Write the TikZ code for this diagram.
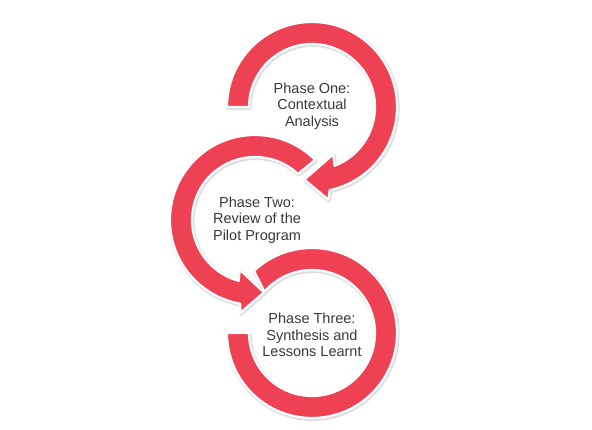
\documentclass[tikz,border=0pt]{standalone}
\usepackage{fontspec}
\setmainfont{Liberation Sans}
\definecolor{phasered}{HTML}{EE4154}
\definecolor{phasetext}{HTML}{383838}

\begin{document}
\begin{tikzpicture}[x=1pt,y=1pt,
  ringarrow/.style={fill=phasered,draw=white,line width=2.2pt,line join=round},
  ringshadow/.style={fill=black!13,draw=black!13,line width=3.6pt,line join=round,xshift=0.8pt,yshift=-1.2pt},
  phaselabel/.style={align=center,text=phasetext,font=\fontsize{14.5}{16.5}\selectfont}]
\useasboundingbox (0,0) rectangle (592,430);
% phase three ring (bottom)
\begin{scope}[shift={(312,97)}]
\path[ringshadow] (133:85) arc[start angle=133,end angle=-180,radius=85] -- (-180:63) arc[start angle=-180,end angle=139,radius=63] -- cycle;
\path[ringarrow] (133:85) arc[start angle=133,end angle=-180,radius=85] -- (-180:63) arc[start angle=-180,end angle=139,radius=63] -- cycle;
\end{scope}
% phase two ring (middle)
\begin{scope}[shift={(255,210)}]
\path[ringshadow] (45:85) arc[start angle=45,end angle=260,radius=85] -- (261:94) -- (277:73) -- (253:52) -- (255:63) arc[start angle=255,end angle=47,radius=63] -- cycle;
\path[ringarrow] (45:85) arc[start angle=45,end angle=260,radius=85] -- (261:94) -- (277:73) -- (253:52) -- (255:63) arc[start angle=255,end angle=47,radius=63] -- cycle;
\end{scope}
% phase one ring (top)
\begin{scope}[shift={(312,323)}]
\path[ringshadow] (180:85) arc[start angle=180,end angle=-78,radius=85] -- (-80:94) -- (-96:73) -- (-66:52) -- (-69:63) arc[start angle=-69,end angle=180,radius=63] -- cycle;
\path[ringarrow] (180:85) arc[start angle=180,end angle=-78,radius=85] -- (-80:94) -- (-96:73) -- (-66:52) -- (-69:63) arc[start angle=-69,end angle=180,radius=63] -- cycle;
\end{scope}
\node[phaselabel] (one) at (312,324) {Phase One:\\Contextual\\Analysis};
\node[phaselabel] (two) at (257,210) {Phase Two:\\Review of the\\Pilot Program};
\node[phaselabel] (three) at (312,95) {Phase Three:\\Synthesis and\\Lessons Learnt};
\end{tikzpicture}
\end{document}
